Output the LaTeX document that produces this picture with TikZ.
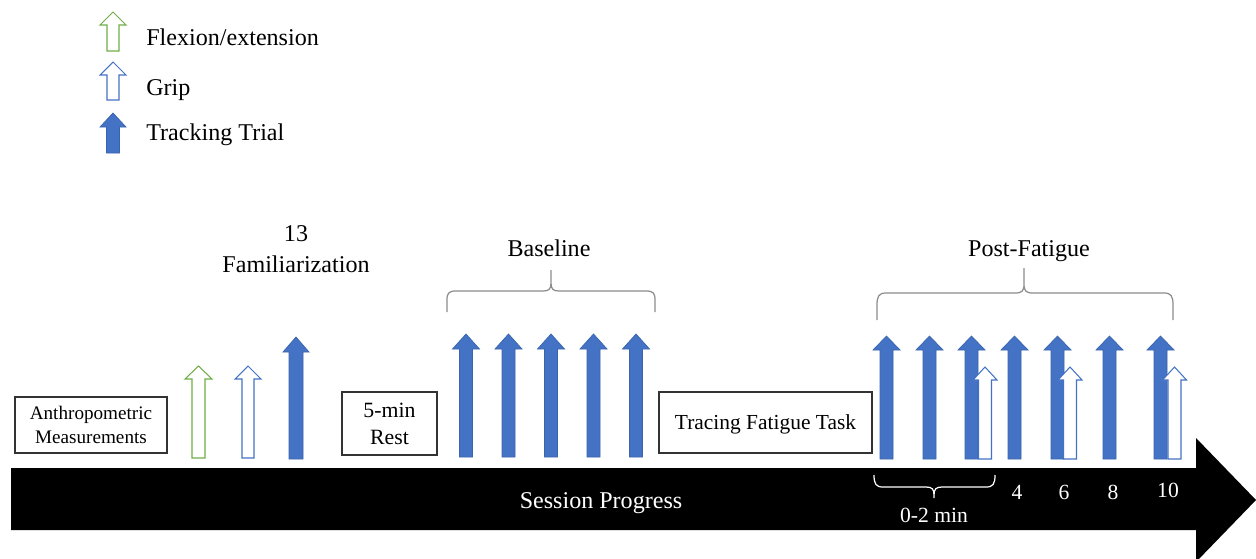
\documentclass[tikz,border=0pt]{standalone}
\usepackage{fontspec}
\setmainfont{Liberation Serif}
\definecolor{trk}{HTML}{4472C4}
\definecolor{trkedge}{HTML}{3A64AE}
\definecolor{flx}{HTML}{70AD47}
\definecolor{brc}{HTML}{8C8C8C}
\newcommand\uarr[7]{\draw[#1] ({#2-#7},#5) -- ({#2-#7},#4) -- ({#2-#6},#4) -- (#2,#3) -- ({#2+#6},#4) -- ({#2+#7},#4) -- ({#2+#7},#5) -- cycle;}
\begin{document}
\begin{tikzpicture}[x=0.02cm,y=-0.02cm,
  flexarr/.style={draw=flx, fill=white, line width=0.6pt},
  griparr/.style={draw=trk, fill=white, line width=0.6pt},
  trackarr/.style={draw=trkedge, fill=trk, line width=0.4pt},
  box/.style={draw=black!80, line width=0.7pt, inner sep=0pt, align=center},
  lbl/.style={font=\fontsize{13.7}{17.6}\selectfont, inner sep=0pt},
  sm/.style={font=\fontsize{12.3}{15}\selectfont, inner sep=0pt},
  bracestyle/.style={draw=brc, line width=0.7pt},
  timeline/.style={fill=black}]
\useasboundingbox (0,0) rectangle (1256,558);
\clip (0,0) rectangle (1256,558);
% timeline arrow
\fill[timeline] (11,468) -- (1196,468) -- (1196,438) -- (1256,500) -- (1196,562) -- (1196,530) -- (11,530) -- cycle;
% legend
\uarr{flexarr}{113}{12}{25}{51}{13}{6}
\uarr{griparr}{113}{62}{75}{100}{13}{6}
\uarr{trackarr}{113}{113}{127}{153}{13}{6.5}
\node[lbl, anchor=base west] (lflex) at (146,45) {Flexion/extension};
\node[lbl, anchor=base west] (lgrip) at (146,95) {Grip};
\node[lbl, anchor=base west] (ltrk) at (146,140) {Tracking Trial};
% boxes
\node[box, minimum width=152*0.02cm, minimum height=56*0.02cm, font=\fontsize{10.9}{14}\selectfont] (anthro) at (91,425) {Anthropometric\\Measurements};
\node[box, minimum width=95*0.02cm, minimum height=63*0.02cm, font=\fontsize{12.4}{15.5}\selectfont] (rest) at (389.5,423.5) {5-min\\Rest};
\node[box, minimum width=213*0.02cm, minimum height=61*0.02cm, text depth=0pt, font=\fontsize{12.2}{14}\selectfont] (fatigue) at (765.5,422.5) {Tracing Fatigue Task};
% familiarization
\uarr{flexarr}{198.5}{366}{379}{458}{13.5}{6.5}
\uarr{griparr}{248}{366}{379}{458}{13}{6}
\uarr{trackarr}{296}{337}{352}{459}{13}{7}
\node[lbl, align=center, anchor=south] (fam) at (296,273) {13\\Familiarization};
% baseline
\foreach \cx in {466,508.5,551,593.5,636}{\uarr{trackarr}{\cx}{334}{349}{457}{13.5}{6.5}}
\node[lbl, anchor=base] (base) at (549,256) {Baseline};
\draw[bracestyle] (447,312) -- (447,300) .. controls (447,293) and (449,291) .. (456,291) -- (543,291) .. controls (549,291) and (551,289) .. (551,283) -- (551,270) -- (551,283) .. controls (551,289) and (553,291) .. (559,291) -- (646,291) .. controls (653,291) and (655,293) .. (655,300) -- (655,312);
% post-fatigue
\foreach \cx in {886.5,929.5,971.5,1014.5,1057.5,1109.5,1160.5}{\uarr{trackarr}{\cx}{336}{350}{459}{13.5}{6.5}}
\foreach \cx in {985,1070,1174.5}{\uarr{griparr}{\cx}{367}{380}{459}{12}{6.5}}
\node[lbl, anchor=base] (post) at (1029,256) {Post-Fatigue};
\draw[bracestyle] (877,320) -- (877,305) .. controls (877,296) and (879,293) .. (886,293) -- (1015,293) .. controls (1022,293) and (1024,291) .. (1024,284) -- (1024,268) -- (1024,284) .. controls (1024,291) and (1026,293) .. (1033,293) -- (1164,293) .. controls (1171,293) and (1173,296) .. (1173,305) -- (1173,320);
% timeline labels
\node[lbl, anchor=base, text=white] (prog) at (601,508) {Session Progress};
\draw[white, line width=0.7pt] (874,475) .. controls (874,484) and (876,487) .. (883,487) -- (926,487) .. controls (932,487) and (934,489) .. (934,495) -- (934,498) -- (934,495) .. controls (934,489) and (936,487) .. (942,487) -- (986,487) .. controls (993,487) and (995,484) .. (995,475);
\node[sm, anchor=base, text=white] (t02) at (934,522) {0-2 min};
\node[sm, anchor=base, text=white] (t4) at (1017,499) {4};
\node[sm, anchor=base, text=white] (t6) at (1064,499) {6};
\node[sm, anchor=base, text=white] (t8) at (1113,499) {8};
\node[sm, anchor=base, text=white] (t10) at (1168,497) {10};
\end{tikzpicture}
\end{document}
